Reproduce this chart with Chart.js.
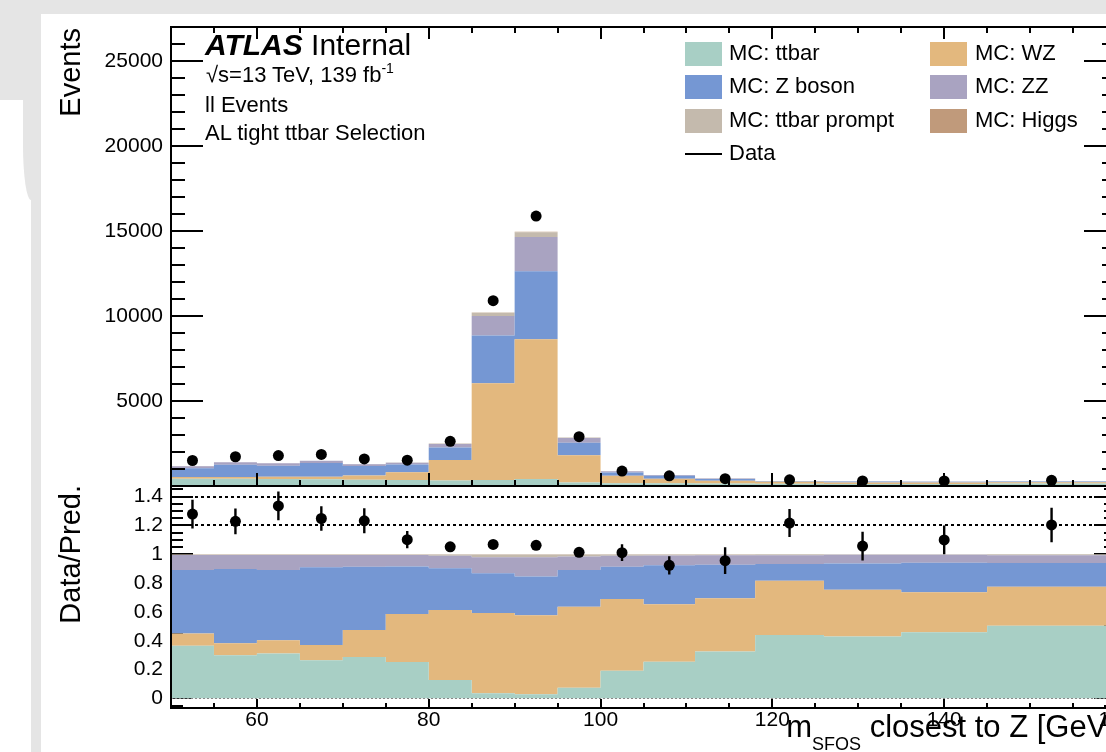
<!DOCTYPE html>
<html>
<head>
<meta charset="utf-8">
<title>m_SFOS closest to Z</title>
<script src="https://cdn.jsdelivr.net/npm/chart.js@4.4.1/dist/chart.umd.min.js"></script>
<style>
  html, body { margin: 0; padding: 0; }
  body { width: 1106px; height: 752px; overflow: hidden; position: relative; background: #fff;
         font-family: "Liberation Sans", Arial, sans-serif; color: #000; }
  .grey { position: absolute; background: #e5e5e5; }
  canvas { position: absolute; left: 0; }
  .txt { position: absolute; white-space: nowrap; line-height: 1; }
  .sw { position: absolute; width: 37px; height: 24px; }
  .ytitle { position: absolute; width: 400px; text-align: right; transform-origin: 0 0;
            transform: rotate(-90deg); font-size: 29px; line-height: 1; white-space: nowrap; }
</style>
</head>
<body>
<div class="grey" style="left:0;top:0;width:1106px;height:14px"></div>
<div class="grey" style="left:0;top:0;width:41px;height:100px"></div>
<div class="grey" style="left:23px;top:0;width:18px;height:200px;border-bottom-left-radius:8px 55px"></div>
<div class="grey" style="left:31px;top:0;width:10px;height:752px"></div>

<canvas id="mainChart" width="1140" height="500" style="top:0"></canvas>
<canvas id="ratioChart" width="1140" height="282" style="top:470px"></canvas>

<div class="txt" style="left:205px;top:29.6px;font-size:30px"><b><i>ATLAS</i></b> Internal</div>
<div class="txt" style="left:206px;top:64.4px;font-size:22px">√s=13 TeV, 139 fb<span style="font-size:14px;position:relative;top:-9px">-1</span></div>
<div class="txt" style="left:205px;top:94.4px;font-size:22px">ll Events</div>
<div class="txt" style="left:205px;top:122.4px;font-size:22px">AL tight ttbar Selection</div>

<div class="ytitle" style="left:55.5px;top:428px">Events</div>
<div class="ytitle" style="left:55.5px;top:885px">Data/Pred.</div>
<div class="txt" style="left:516px;width:600px;text-align:right;top:710.8px;font-size:31px">m<span style="font-size:18px;position:relative;top:13px">SFOS</span> closest to Z [GeV]</div>

<div id="legend"></div>

<script>
// Werte (Events pro Bin)
const binEdges = [50, 55, 60, 65, 70, 75, 80, 85, 90, 95, 100, 105, 111, 118, 126, 135, 145, 160];
const seriesNames = ['MC: ttbar', 'MC: WZ', 'MC: Z boson', 'MC: ZZ', 'MC: ttbar prompt', 'MC: Higgs'];
const mcTtbar       = [428, 420, 418, 393, 370, 348, 318, 357, 419, 212, 167, 165, 146, 132, 120, 124, 141];
const mcWZ          = [101, 115, 122, 158, 241, 461, 1215, 5681, 8208, 1604, 433, 259, 167, 113, 91, 75, 76];
const mcZboson      = [516, 722, 654, 805, 568, 453, 725, 2815, 4007, 732, 195, 177, 104, 35, 51, 55, 46];
const mcZZ          = [122, 136, 139, 127, 104, 112, 218, 1142, 2018, 269, 66, 44, 30, 18, 17, 15, 15];
const mcTtbarPrompt = [5, 6, 6, 6, 6, 4, 20, 189, 279, 39, 8, 4, 2, 2, 1, 1, 2];
const mcHiggs       = [1, 1, 1, 1, 1, 2, 4, 15, 20, 4, 1, 1, 1, 0, 0, 0, 0];
const dataEvents    = [1500, 1720, 1790, 1860, 1590, 1520, 2630, 10900, 15880, 2900, 880, 600, 430, 365, 296, 297, 337];
const ratioErr      = [0.10, 0.09, 0.10, 0.085, 0.087, 0.06, 0.03, 0.015, 0.015, 0.03, 0.058, 0.064, 0.093, 0.097, 0.10, 0.10, 0.12];
const xTicks      = [60, 80, 100, 120, 140, 160];
const mainYTicks  = [5000, 10000, 15000, 20000, 25000];
const ratioYTicks = [0, 0.2, 0.4, 0.6, 0.8, 1, 1.2, 1.4];

const seriesColors = ['#a8cfc5', '#e3b87e', '#7597d3', '#a9a3c1', '#c4baad', '#c09a7b'];

Chart.defaults.font.family = '"Liberation Sans", Arial, sans-serif';
Chart.defaults.color = '#000';

const nBins = binEdges.length - 1;
const binCenters = binEdges.slice(0, nBins).map((e, i) => (e + binEdges[i + 1]) / 2);
const mcSeries = [mcTtbar, mcWZ, mcZboson, mcZZ, mcTtbarPrompt, mcHiggs];
const mcTotal = binCenters.map((c, i) => mcSeries.reduce((s, arr) => s + arr[i], 0));
const ratio = dataEvents.map((d, i) => d / mcTotal[i]);
const mcFractions = mcSeries.map(arr => arr.map((v, i) => v / mcTotal[i]));

// Histogramm als Stufenlinie: ein Punkt pro linker Kante, letzte Kante wiederholt letzten Bin
function histPoints(vals) {
    return binEdges.map((e, i) => ({ x: e, y: vals[Math.min(i, nBins - 1)] }));
}

function stackSets(list) {
    return list.map((vals, k) => ({
        label: seriesNames[k],
        data: histPoints(vals),
        stack: 'mc',
        stepped: 'before',
        fill: k === 0 ? 'origin' : '-1',
        backgroundColor: seriesColors[k],
        borderColor: 'rgba(0,0,0,0)',
        borderWidth: 0,
        pointRadius: 0
    }));
}

function markerSet(vals) {
    return {
        label: 'Data',
        data: binCenters.map((c, i) => ({ x: c, y: vals[i] })),
        stack: 'data',
        order: -1,
        showLine: false,
        fill: false,
        pointRadius: 5.5,
        pointBackgroundColor: '#000',
        pointBorderWidth: 0
    };
}

const tickFont = { family: '"Liberation Sans", Arial, sans-serif', size: 21 };

// Tickmarks nach innen, wie bei ROOT
function drawXTicks(ctx, x, a, yBase, dir, majLen, minLen) {
    for (let v = 55; v < 160; v += 5) {
        const px = Math.round(x.getPixelForValue(v));
        const len = v % 20 === 0 ? majLen : minLen;
        ctx.moveTo(px, yBase);
        ctx.lineTo(px, yBase + dir * len);
    }
}

function drawYTicks(ctx, y, a, values, isMajor, majLen, minLen) {
    values.forEach((v, i) => {
        const py = Math.round(y.getPixelForValue(v));
        const len = isMajor(i) ? majLen : minLen;
        ctx.moveTo(a.left, py); ctx.lineTo(a.left + len, py);
        ctx.moveTo(a.right, py); ctx.lineTo(a.right - len, py);
    });
}

const mainDecor = {
    id: 'mainDecor',
    afterDatasetsDraw(chart) {
        const { ctx, chartArea: a, scales: { x, y } } = chart;
        ctx.save();
        ctx.strokeStyle = '#000';
        ctx.lineWidth = 2;
        ctx.beginPath();
        drawXTicks(ctx, x, a, a.bottom, -1, 13, 6);
        drawXTicks(ctx, x, a, a.top, 1, 12, 6);
        const vals = [];
        for (let k = 1; k <= 26; k++) vals.push(k * 1000);
        drawYTicks(ctx, y, a, vals, i => (i + 1) % 5 === 0, 32, 14);
        ctx.stroke();
        ctx.strokeRect(a.left, a.top, a.right - a.left, a.bottom - a.top);
        ctx.restore();
    }
};

const ratioDecor = {
    id: 'ratioDecor',
    beforeDatasetsDraw(chart) {
        const { ctx, chartArea: a, scales: { y } } = chart;
        ctx.save();
        ctx.strokeStyle = '#000';
        ctx.lineWidth = 2;
        ctx.beginPath();
        const vals = [];
        for (let k = -1; k <= 29; k++) vals.push(k * 0.05);
        drawYTicks(ctx, y, a, vals, i => (i - 1) % 4 === 0, 22, 12);
        ctx.stroke();
        ctx.restore();
    },
    afterDatasetsDraw(chart) {
        const { ctx, chartArea: a, scales: { x, y } } = chart;
        ctx.save();
        // gepunktete Linien
        ctx.strokeStyle = '#000';
        ctx.lineWidth = 2;
        ctx.setLineDash([3, 3]);
        [1.2, 1.4].forEach(v => {
            const py = Math.round(y.getPixelForValue(v));
            ctx.beginPath(); ctx.moveTo(a.left, py); ctx.lineTo(a.right, py); ctx.stroke();
        });
        ctx.strokeStyle = '#888';
        ctx.lineWidth = 1;
        ctx.setLineDash([2, 2]);
        const p0 = Math.round(y.getPixelForValue(0)) + 0.5;
        ctx.beginPath(); ctx.moveTo(a.left, p0); ctx.lineTo(a.right, p0); ctx.stroke();
        ctx.setLineDash([]);

        // Fehlerbalken
        ctx.strokeStyle = '#000';
        ctx.lineWidth = 2.4;
        ctx.beginPath();
        binCenters.forEach((c, i) => {
            const px = x.getPixelForValue(c);
            ctx.moveTo(px, y.getPixelForValue(ratio[i] + ratioErr[i]));
            ctx.lineTo(px, y.getPixelForValue(ratio[i] - ratioErr[i]));
        });
        ctx.stroke();

        ctx.lineWidth = 2;
        ctx.beginPath();
        drawXTicks(ctx, x, a, a.bottom, -1, 9, 5);
        ctx.stroke();
        ctx.strokeRect(a.left, a.top, a.right - a.left, a.bottom - a.top);
        ctx.restore();
    }
};

const mainSets = stackSets(mcSeries);
mainSets.push(markerSet(dataEvents));

new Chart(document.getElementById('mainChart'), {
    type: 'line',
    data: { datasets: mainSets },
    options: {
        responsive: false,
        devicePixelRatio: 1,
        animation: false,
        events: [],
        layout: { padding: { left: 0, top: 27, right: 24, bottom: 14 } },
        plugins: { legend: { display: false }, tooltip: { enabled: false } },
        scales: {
            x: { type: 'linear', min: 50, max: 160, display: false },
            y: {
                type: 'linear', min: 0, max: 27000, stacked: true,
                afterFit(s) { s.width = 171; },
                afterBuildTicks(s) { s.ticks = mainYTicks.map(v => ({ value: v })); },
                grid: { display: false, drawTicks: true, tickLength: 8 },
                border: { display: false },
                ticks: { padding: 0, color: '#000', font: tickFont, callback: v => String(v) }
            }
        }
    },
    plugins: [mainDecor]
});

const ratioSets = stackSets(mcFractions);
ratioSets.push(markerSet(ratio));

new Chart(document.getElementById('ratioChart'), {
    type: 'line',
    data: { datasets: ratioSets },
    options: {
        responsive: false,
        devicePixelRatio: 1,
        animation: false,
        events: [],
        layout: { padding: { left: 0, top: 16, right: 24, bottom: 0 } },
        plugins: { legend: { display: false }, tooltip: { enabled: false } },
        scales: {
            x: {
                type: 'linear', min: 50, max: 160,
                afterFit(s) { s.height = 44; },
                afterBuildTicks(s) { s.ticks = xTicks.map(v => ({ value: v })); },
                grid: { display: false, drawTicks: false },
                border: { display: false },
                ticks: { padding: 0, maxRotation: 0, autoSkip: false, color: '#000', font: tickFont, callback: v => String(v) }
            },
            y: {
                type: 'linear', min: -0.067, max: 1.474, stacked: true,
                afterFit(s) { s.width = 171; },
                afterBuildTicks(s) { s.ticks = ratioYTicks.map(v => ({ value: v })); },
                grid: { display: false, drawTicks: true, tickLength: 8 },
                border: { display: false },
                ticks: { padding: 0, color: '#000', font: tickFont, callback: v => String(v) }
            }
        }
    },
    plugins: [ratioDecor]
});

// Legende (zwei Spalten wie im Original)
const legend = document.getElementById('legend');
const swatchX = [685, 930], textX = [729, 975];
seriesNames.forEach((name, k) => {
    const col = k % 2, row = Math.floor(k / 2);
    const sw = document.createElement('div');
    sw.className = 'sw';
    sw.style.left = swatchX[col] + 'px';
    sw.style.top = (42 + row * 33.3) + 'px';
    sw.style.background = seriesColors[k];
    legend.appendChild(sw);
    const t = document.createElement('div');
    t.className = 'txt';
    t.style.left = textX[col] + 'px';
    t.style.top = (42.1 + row * 33.3) + 'px';
    t.style.fontSize = '22px';
    t.textContent = name;
    legend.appendChild(t);
});
const dataLine = document.createElement('div');
dataLine.style.cssText = 'position:absolute;left:685px;top:153px;width:37px;height:2px;background:#000';
legend.appendChild(dataLine);
const dataText = document.createElement('div');
dataText.className = 'txt';
dataText.style.cssText = 'left:729px;top:142px;font-size:22px';
dataText.textContent = 'Data';
legend.appendChild(dataText);
</script>
</body>
</html>
